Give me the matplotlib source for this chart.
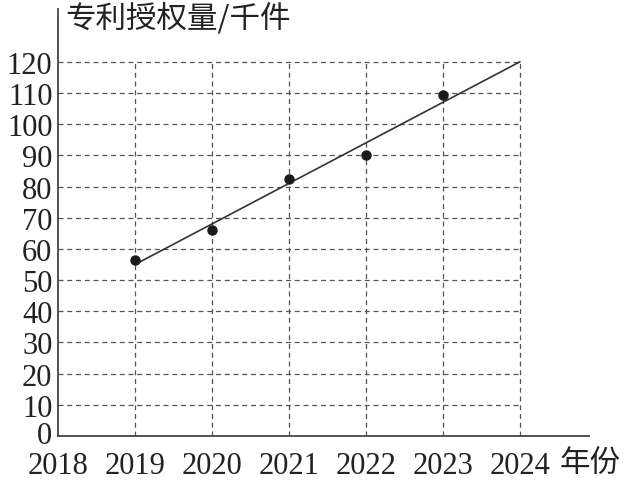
import matplotlib.pyplot as plt
from matplotlib.transforms import ScaledTranslation

plt.rcParams['font.family'] = ['Liberation Serif', 'Noto Sans CJK SC']

# data
years = [2019, 2020, 2021, 2022, 2023]
patents = [56.5, 66, 82.5, 90, 109.5]
fit_years = [2019, 2024]
fit_values = [55, 120]
year_ticks = [2018, 2019, 2020, 2021, 2022, 2023, 2024]
value_ticks = list(range(0, 130, 10))

fig = plt.figure(figsize=(6.3, 4.81), dpi=100)
ax = fig.add_axes([0.092, 0.0915, 0.843, 0.888])
ax.set_xlim(2018, 2024.9)
ax.set_ylim(0, 137)

# dashed grid limited to the 2018-2024 / 0-120 box
grid_kw = dict(colors='#555555', linestyles=(0, (4, 3)), linewidth=0.9, zorder=1)
ax.hlines(value_ticks[1:], year_ticks[0], year_ticks[-1], **grid_kw)
ax.vlines(year_ticks[1:], 0, value_ticks[-1], **grid_kw)

ax.plot(fit_years, fit_values, color='#333333', linewidth=1.2, zorder=2)
ax.plot(years, patents, 'o', color='#1a1a1a', markersize=6.5, zorder=3)

for side in ['top', 'right']:
    ax.spines[side].set_visible(False)
for side in ['left', 'bottom']:
    ax.spines[side].set_color('#444444')
    ax.spines[side].set_linewidth(1.3)

ax.set_xticks(year_ticks)
ax.set_xticklabels([str(y) for y in year_ticks])
ax.set_yticks(value_ticks)
ax.tick_params(length=0, labelsize=22, colors='#222222', pad=4)
ax.tick_params(axis='x', pad=11)

# nudge the "0" label up a little so it clears "2018"
zero_label = ax.get_yticklabels()[0]
zero_label.set_transform(zero_label.get_transform() +
                         ScaledTranslation(0, 3 / 72, fig.dpi_scale_trans))

fig.text(0.103, 0.962, '专利授权量/千件', fontsize=22, family='Noto Sans CJK SC',
         color='#222222', va='center', ha='left')
fig.text(0.888, 0.036, '年份', fontsize=22, family='Noto Sans CJK SC',
         color='#222222', va='center', ha='left')

fig.savefig('out.png', dpi=100)
